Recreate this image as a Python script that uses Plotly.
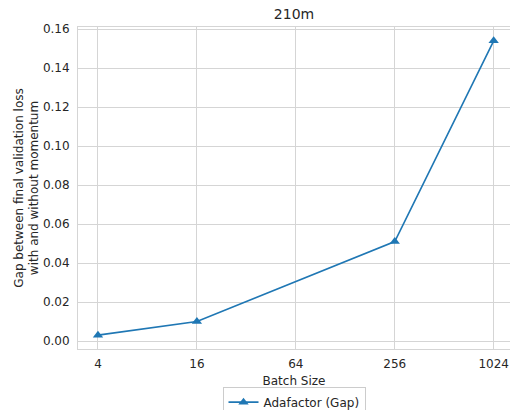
import plotly.graph_objects as go

batch_sizes = [4, 16, 256, 1024]
gap_values = [0.003, 0.010, 0.051, 0.154]
x_tick_vals = [4, 16, 64, 256, 1024]
x_tick_text = ["4", "16", "64", "256", "1024"]
y_tick_vals = [0.00, 0.02, 0.04, 0.06, 0.08, 0.10, 0.12, 0.14, 0.16]

TEXT = "#262626"
GRID = "#d5d5d5"
BLUE = "#1f77b4"
FONT = "DejaVu Sans"

fig = go.Figure()
fig.add_trace(go.Scatter(
    x=batch_sizes, y=gap_values, mode="lines+markers",
    name="Adafactor (Gap)",
    line=dict(color=BLUE, width=1.6),
    marker=dict(symbol="triangle-up", size=9, color=BLUE),
))

fig.update_layout(
    width=510, height=410,
    margin=dict(l=78, r=0, t=27, b=61, autoexpand=False),
    paper_bgcolor="white", plot_bgcolor="white",
    font=dict(family=FONT, size=12, color=TEXT),
    title=dict(text="210m", x=0.5, xref="paper", xanchor="center",
               y=1 - 14 / 410, yanchor="middle", font=dict(size=14, color=TEXT)),
    showlegend=True,
    legend=dict(orientation="h", x=0.5, xanchor="center", y=-0.117, yanchor="top",
                bordercolor="#cccccc", borderwidth=1, bgcolor="white",
                font=dict(size=12, color=TEXT)),
)

fig.update_xaxes(
    type="log", range=[0.4804, 3.1097],
    tickvals=x_tick_vals, ticktext=x_tick_text,
    showgrid=True, gridcolor=GRID, gridwidth=1,
    showline=True, linecolor=GRID, linewidth=1, mirror=True,
    ticks="outside", ticklen=4, tickcolor="rgba(0,0,0,0)",
    zeroline=False, automargin=False,
    title=dict(text="Batch Size", standoff=6, font=dict(size=12, color=TEXT)),
    tickfont=dict(size=12, color=TEXT),
)
fig.update_yaxes(
    range=[-0.0041, 0.1611],
    tickvals=y_tick_vals, tickformat=".2f",
    showgrid=True, gridcolor=GRID, gridwidth=1,
    showline=True, linecolor=GRID, linewidth=1, mirror=True,
    ticks="outside", ticklen=5, tickcolor="rgba(0,0,0,0)",
    zeroline=False, automargin=False,
    title=dict(text="Gap between final validation loss<br>with and without momentum",
               standoff=1, font=dict(size=12, color=TEXT)),
    tickfont=dict(size=12, color=TEXT),
)

fig.write_html("out.html", config={"displayModeBar": False},
               post_script="document.body.style.margin='0';document.body.style.overflow='hidden';")
